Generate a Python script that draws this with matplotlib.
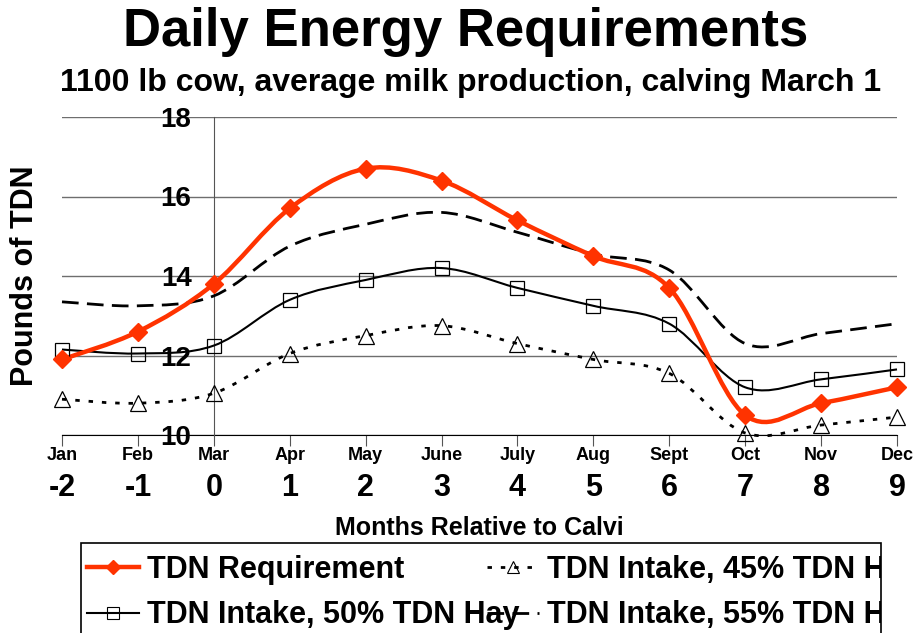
import numpy as np
import matplotlib
matplotlib.use("Agg")
import matplotlib.pyplot as plt
from matplotlib.path import Path
from matplotlib.patches import PathPatch, Rectangle
from matplotlib.lines import Line2D
from matplotlib.transforms import Bbox, TransformedBbox
from matplotlib.ticker import FixedLocator

plt.rcParams['font.family'] = ['Liberation Sans', 'DejaVu Sans']
plt.rcParams['font.weight'] = 'bold'

# data
months = ['Jan', 'Feb', 'Mar', 'Apr', 'May', 'June', 'July', 'Aug', 'Sept', 'Oct', 'Nov', 'Dec']
rel_month = [-2, -1, 0, 1, 2, 3, 4, 5, 6, 7, 8, 9]
tdn_req = [11.9, 12.6, 13.8, 15.7, 16.7, 16.4, 15.4, 14.5, 13.7, 10.5, 10.8, 11.2]
hay50 = [12.15, 12.05, 12.25, 13.4, 13.9, 14.2, 13.7, 13.25, 12.8, 11.2, 11.4, 11.65]
hay45 = [10.9, 10.8, 11.05, 12.05, 12.5, 12.75, 12.3, 11.9, 11.55, 10.05, 10.25, 10.45]
hay55 = [13.35, 13.25, 13.5, 14.75, 15.3, 15.6, 15.1, 14.55, 14.15, 12.3, 12.55, 12.8]
y_ticks = [10, 12, 14, 16, 18]

RED = '#FF3300'
W, H = 919, 633


def smooth_path(x, y):
    # excel-like smoothed line: bezier segments through every point
    pts = np.column_stack([x, y]).astype(float)
    ext = np.vstack([pts[0], pts, pts[-1]])
    verts = [tuple(pts[0])]
    codes = [Path.MOVETO]
    for i in range(len(pts) - 1):
        p0, p1, p2, p3 = ext[i], ext[i + 1], ext[i + 2], ext[i + 3]
        c1 = p1 + (p2 - p0) / 6.0
        c2 = p2 - (p3 - p1) / 6.0
        verts += [tuple(c1), tuple(c2), tuple(p2)]
        codes += [Path.CURVE4] * 3
    return Path(verts, codes)


fig = plt.figure(figsize=(W / 100, H / 100), dpi=100)
ax = fig.add_axes([62 / W, (H - 435) / H, 835 / W, 318 / H])
ax.set_xlim(-2, 9)
ax.set_ylim(10, 18)

DASH = (0, (6, 3))
DOT = (0, (1.6, 3.2))

# lines
series = [
    (hay55, dict(color='black', lw=2.0, linestyle=DASH)),
    (hay45, dict(color='black', lw=2.0, linestyle=DOT)),
    (hay50, dict(color='black', lw=1.5, linestyle='-')),
    (tdn_req, dict(color=RED, lw=3.2, linestyle='-')),
]
for vals, st in series:
    patch = PathPatch(smooth_path(rel_month, vals), facecolor='none', edgecolor=st['color'],
                      lw=st['lw'], linestyle=st['linestyle'], clip_on=False, zorder=3)
    ax.add_patch(patch)

ax.plot(rel_month, hay45, linestyle='none', marker='^', ms=11, mfc='none', mec='black',
        mew=0.9, clip_on=False, zorder=4)
ax.plot(rel_month, hay50, linestyle='none', marker='s', ms=10, mfc='none', mec='black',
        mew=0.9, clip_on=False, zorder=4)
ax.plot(rel_month, tdn_req, linestyle='none', marker='D', ms=9, color=RED,
        clip_on=False, zorder=5)

# axes styling
for s in ['top', 'right']:
    ax.spines[s].set_visible(False)
ax.spines['left'].set_position(('data', 0))
ax.spines['left'].set_color('#555555')
ax.spines['bottom'].set_color('black')
ax.spines['bottom'].set_zorder(2)

ax.set_yticks(y_ticks)
ax.set_yticklabels([str(v) for v in y_ticks], fontsize=20, fontweight='bold')
ax.tick_params(axis='y', length=0, pad=16)
ax.yaxis.grid(True, color='#6e6e6e', lw=1)
ax.set_axisbelow(True)

ax.xaxis.remove_overlapping_locs = False
ax.set_xticks(rel_month)
ax.set_xticklabels(months, fontsize=13, fontweight='bold')
ax.xaxis.set_minor_locator(FixedLocator(rel_month))
ax.set_xticklabels([str(v) for v in rel_month], minor=True, fontsize=22, fontweight='bold')
ax.tick_params(axis='x', which='major', length=8, direction='out', color='#555555', pad=1)
ax.tick_params(axis='x', which='minor', length=0, pad=27)

ax.set_xlabel('Months Relative to Calvi', fontsize=18, fontweight='bold')
ax.xaxis.set_label_coords(0.5, -0.255)

fig.text(25 / W, 1 - 276 / H, 'Pounds of TDN', rotation=90, ha='center', va='center',
         fontsize=22, fontweight='bold')
fig.text(466 / W, 1 - 32 / H, 'Daily Energy Requirements', ha='center', va='center',
         fontsize=38, fontweight='bold')
fig.text(471 / W, 1 - 83 / H, '1100 lb cow, average milk production, calving March 1',
         ha='center', va='center', fontsize=23, fontweight='bold')

# legend, laid out as two fixed columns inside one frame
h_req = Line2D([], [], color=RED, lw=3.2, marker='D', ms=7)
h_50 = Line2D([], [], color='black', lw=1.5, marker='s', ms=8, mfc='none', mew=0.8)
h_45 = Line2D([], [], color='black', lw=2.0, linestyle=DOT, marker='^', ms=9,
              mfc='none', mew=0.8)
h_55 = Line2D([], [], color='black', lw=2.0, linestyle=DASH)
leg_kw = dict(frameon=False, loc='upper left', prop=dict(weight='bold', size=22),
              handlelength=1.7, handletextpad=0.25, labelspacing=0.5, borderpad=0,
              borderaxespad=0)
leg1 = fig.legend([h_req, h_50], ['TDN Requirement', 'TDN Intake, 50% TDN Hay'],
                  bbox_to_anchor=(87 / W, 1 - 555 / H), **leg_kw)
leg2 = fig.legend([h_45, h_55], ['TDN Intake, 45% TDN Hay', 'TDN Intake, 55% TDN Hay'],
                  bbox_to_anchor=(487 / W, 1 - 555 / H), **leg_kw)
clip = TransformedBbox(Bbox([[81 / W, 0], [881 / W, 1]]), fig.transFigure)
for t in leg2.get_texts():
    t.set_clip_box(clip)
    t.set_clip_on(True)
fig.add_artist(Rectangle((81 / W, -0.05), 800 / W, (H - 543) / H + 0.05,
                         transform=fig.transFigure, fill=False, edgecolor='black', lw=1.2))

fig.savefig('out.png', dpi=100)
